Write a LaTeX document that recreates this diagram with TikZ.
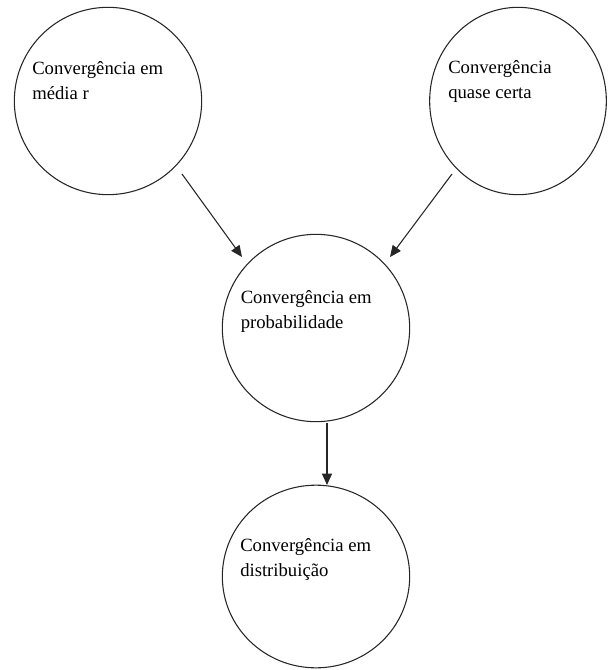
\documentclass[tikz,border=0pt]{standalone}
\usepackage{fontspec}
\setmainfont{Liberation Serif}
\usetikzlibrary{arrows.meta,shapes.geometric}
\begin{document}
\begin{tikzpicture}[x=0.75pt,y=-0.75pt,
  bubble/.style={draw=black!85,line width=0.8pt,ellipse,inner sep=0pt,outer sep=0pt},
  label/.style={anchor=base west,inner sep=0pt,align=left,font=\fontsize{14pt}{18.75pt}\selectfont},
  link/.style={draw=black!85,line width=0.8pt,-{Triangle[length=8.5pt,width=7.5pt]}}]
\useasboundingbox (0,0) rectangle (608,670);
\node[bubble,minimum width=140.5pt,minimum height=140.5pt] (media) at (108,101) {};
\node[bubble,minimum width=132.5pt,minimum height=140.5pt] (quase) at (518,101) {};
\node[bubble,minimum width=140.5pt,minimum height=140.5pt] (prob) at (316,328) {};
\node[bubble,minimum width=140.5pt,minimum height=137pt] (dist) at (316,576.5) {};
% anchor base = baseline of the last line
\node[label] (tmedia) at (32,100) {Convergência em\\média r};
\node[label] (tquase) at (448,99) {Convergência\\quase certa};
\node[label] (tprob) at (240.5,328) {Convergência em\\probabilidade};
\node[label] (tdist) at (240,576.5) {Convergência em\\distribuição};
\coordinate (a1s) at (182,174); \coordinate (a1e) at (242,257);
\coordinate (a2s) at (452,174); \coordinate (a2e) at (390,257);
\coordinate (a3s) at (327,423); \coordinate (a3e) at (327,485);
\draw[link] (a1s) -- (a1e);
\draw[link] (a2s) -- (a2e);
\draw[link] (a3s) -- (a3e);
\end{tikzpicture}
\end{document}
